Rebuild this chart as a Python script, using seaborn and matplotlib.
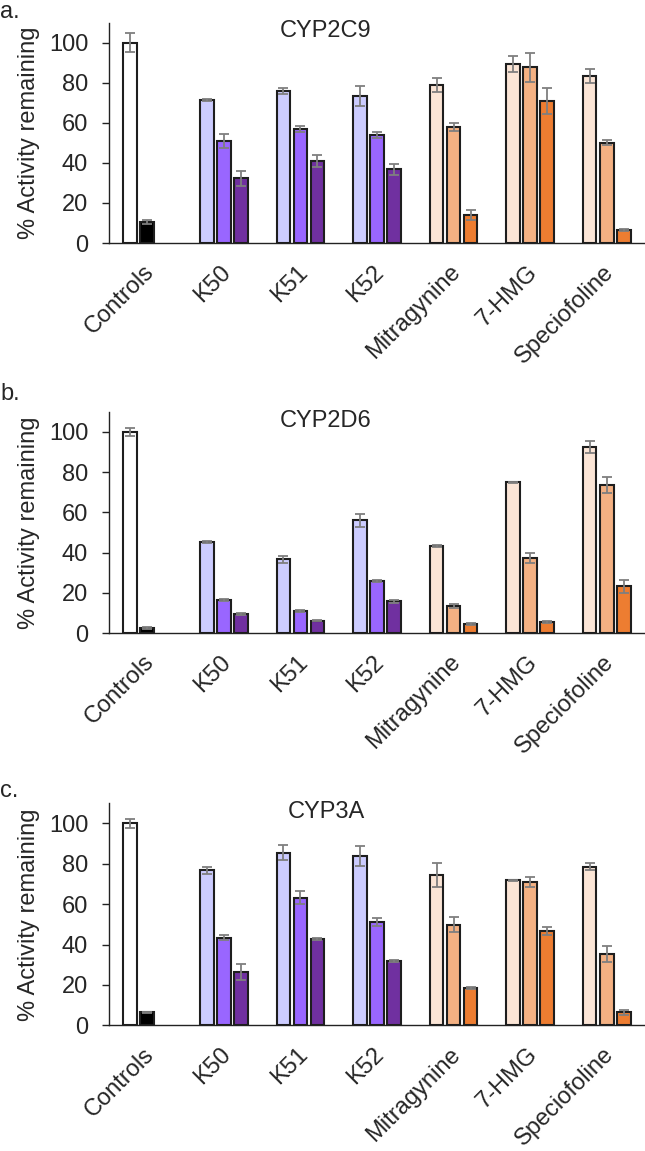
import numpy as np
import pandas as pd
import matplotlib
matplotlib.use("Agg")
import matplotlib.pyplot as plt
import matplotlib.transforms as mtransforms
import seaborn as sns

# ---------------- data ----------------
compounds = ["Controls", "K50", "K51", "K52", "Mitragynine", "7-HMG", "Speciofoline"]
levels = ["low", "mid", "high"]
titles = ["CYP2C9", "CYP2D6", "CYP3A"]
panel_letters = ["a.", "b.", "c."]

nan = np.nan
# CYP2C9
c9_low = [100, 71.4, 75.9, 73.4, 78.9, 89.5, 83.4]
c9_low_sd = [4.7, 0.5, 1.7, 5.2, 3.7, 4.1, 3.5]
c9_mid = [10.6, 50.9, 56.9, 53.8, 57.8, 87.7, 50.1]
c9_mid_sd = [1.0, 3.5, 1.4, 1.5, 2.1, 7.2, 1.3]
c9_high = [nan, 32.4, 40.9, 36.9, 14.0, 71.0, 6.3]
c9_high_sd = [nan, 3.7, 3.0, 2.7, 2.6, 6.4, 0.5]
# CYP2D6
d6_low = [100, 45.1, 36.6, 56.0, 43.1, 75.0, 92.4]
d6_low_sd = [2.1, 0.5, 1.7, 3.2, 0.5, 0.2, 3.0]
d6_mid = [2.6, 16.4, 10.9, 25.7, 13.4, 37.3, 73.6]
d6_mid_sd = [0.4, 0.5, 0.3, 0.5, 0.9, 2.7, 4.0]
d6_high = [nan, 9.4, 6.1, 15.7, 4.5, 5.5, 23.2]
d6_high_sd = [nan, 0.5, 0.3, 0.8, 0.3, 0.4, 3.2]
# CYP3A
a3_low = [100, 76.8, 85.6, 83.8, 74.5, 71.8, 78.6]
a3_low_sd = [2.1, 1.6, 3.6, 4.9, 5.9, 0.3, 1.6]
a3_mid = [6.4, 43.4, 63.2, 51.0, 49.8, 71.0, 35.3]
a3_mid_sd = [0.3, 1.2, 3.3, 2.0, 3.7, 2.3, 4.0]
a3_high = [nan, 26.6, 42.9, 31.8, 18.4, 46.8, 6.5]
a3_high_sd = [nan, 4.0, 0.5, 0.4, 0.6, 1.9, 1.3]

panels = [
    ([c9_low, c9_mid, c9_high], [c9_low_sd, c9_mid_sd, c9_high_sd]),
    ([d6_low, d6_mid, d6_high], [d6_low_sd, d6_mid_sd, d6_high_sd]),
    ([a3_low, a3_mid, a3_high], [a3_low_sd, a3_mid_sd, a3_high_sd]),
]

# colours per compound family and level
ctrl_colors = ["#FFFFFF", "#000000", "#FFFFFF"]
purple_colors = ["#CCCCFF", "#9966FF", "#7030A0"]
orange_colors = ["#FBE5D6", "#F4B183", "#ED7D31"]
family = ["ctrl", "purple", "purple", "purple", "orange", "orange", "orange"]
fam_colors = {"ctrl": ctrl_colors, "purple": purple_colors, "orange": orange_colors}

# ---------------- style ----------------
sns.set_style("ticks")
plt.rcParams["font.family"] = ["Liberation Sans", "DejaVu Sans"]
FS = 17

W, H = 645, 1151
fig = plt.figure(figsize=(W / 100, H / 100), dpi=100)

# axes boxes in pixel coords: (top, bottom)
boxes = [(22.7, 243.0), (411.7, 633.0), (803.3, 1025.3)]
letter_base = [18, 400, 797]
title_base = [36.7, 426.7, 818.0]
left_px = 109

for p, ((vals, sds), (top, bot)) in enumerate(zip(panels, boxes)):
    ax = fig.add_axes([left_px / W, 1 - bot / H, (W - left_px) / W, (bot - top) / H])
    rows = []
    for li, lev in enumerate(levels):
        for ci, comp in enumerate(compounds):
            v = vals[li][ci]
            if not np.isnan(v):
                rows.append({"compound": comp, "level": lev, "value": v})
    df = pd.DataFrame(rows)
    sns.barplot(data=df, x="compound", y="value", hue="level", order=compounds,
                hue_order=levels, width=0.667, gap=0.2, errorbar=None,
                legend=False, ax=ax, linewidth=1.5, edgecolor="#1e1e1e")
    xs, ys, es = [], [], []
    for li, cont in enumerate(ax.containers):
        for bar in cont:
            cx = bar.get_x() + bar.get_width() / 2
            ci = int(round(cx))
            bar.set_facecolor(fam_colors[family[ci]][li])
            bar.set_edgecolor("#1e1e1e")
            xs.append(cx)
            ys.append(bar.get_height())
            es.append(sds[li][ci])
    ax.errorbar(xs, ys, yerr=es, fmt="none", ecolor="#7f7f7f", elinewidth=1.3,
                capsize=3.6, capthick=1.3, zorder=5)

    ax.set_xlim(-0.5, 6.5)
    ax.set_ylim(0, 110)
    ax.set_yticks([0, 20, 40, 60, 80, 100])
    ax.tick_params(axis="y", labelsize=FS, length=5, width=1, color="#222222", pad=10)
    ax.tick_params(axis="x", length=0, pad=13)
    ax.set_xticks(range(len(compounds)))
    ax.set_xticklabels(compounds, rotation=45, ha="right", va="top",
                       rotation_mode="anchor", fontsize=FS)
    offset = mtransforms.ScaledTranslation(-0.04, 0, fig.dpi_scale_trans)
    for lab in ax.get_xticklabels():
        lab.set_transform(lab.get_transform() + offset)
    ax.set_xlabel("")
    ax.set_ylabel("% Activity remaining", fontsize=FS, labelpad=6)
    for s in ["top", "right"]:
        ax.spines[s].set_visible(False)
    for s in ["left", "bottom"]:
        ax.spines[s].set_color("#222222")
        ax.spines[s].set_linewidth(1.0)

    ax.text((326 - left_px) / (W - left_px), (bot - title_base[p]) / (bot - top),
            titles[p], transform=ax.transAxes, ha="center", va="baseline", fontsize=FS)
    fig.text(0.0, 1 - letter_base[p] / H, panel_letters[p], ha="left",
             va="baseline", fontsize=FS)

fig.savefig("out.png", dpi=100)
